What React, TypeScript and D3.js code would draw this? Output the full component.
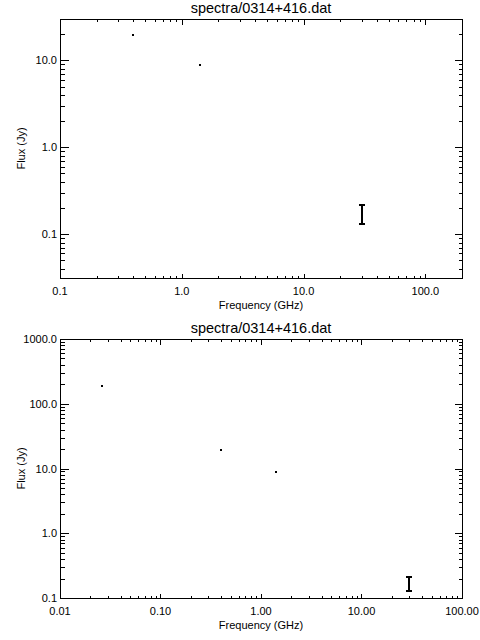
import React from "react";
import * as d3 from "d3";

// spectrum of 0314+416
const freqs = [0.026, 0.4, 1.4, 30];
const fluxes = [185, 19.4, 8.75, 0.175];
const errors = [0, 0, 0, 0.045];

const title = "spectra/0314+416.dat";
const xLabel = "Frequency (GHz)";
const yLabel = "Flux (Jy)";

// per-panel axis ranges and tick label decimals
const topXRange = [0.1, 200];
const topYRange = [0.0313, 30];
const botXRange = [0.01, 100];
const botYRange = [0.1, 1000];
const topXDecimals = [1, 1, 1, 1];
const topYDecimals = [1, 1, 1];
const botXDecimals = [2, 2, 2, 2, 2];
const botYDecimals = [1, 1, 1, 1, 1];

const font = "'Liberation Sans', Arial, sans-serif";
const left = 60;
const right = 462;
const panelH = 259;

type PanelProps = {
  top: number;
  xRange: number[];
  yRange: number[];
  xDec: number[];
  yDec: number[];
};

const isMajor = (v: number) => Math.abs(Math.log10(v) - Math.round(Math.log10(v))) < 1e-6;

const Panel = ({ top, xRange, yRange, xDec, yDec }: PanelProps) => {
  const bottom = top + panelH;
  const x = d3.scaleLog().domain(xRange).range([left, right]);
  const y = d3.scaleLog().domain(yRange).range([bottom, top]);
  const xTicks = x.ticks().filter((t) => t >= xRange[0] * 0.999 && t <= xRange[1] * 1.001);
  const yTicks = y.ticks().filter((t) => t >= yRange[0] * 0.999 && t <= yRange[1] * 1.001);
  const xMajors = xTicks.filter(isMajor);
  const yMajors = yTicks.filter(isMajor);
  const inX = (v: number) => v >= xRange[0] && v <= xRange[1];
  const inY = (v: number) => v >= yRange[0] && v <= yRange[1];
  const xLen = 5;
  const yLen = 8;

  return (
    <g>
      <text x={(left + right) / 2} y={top - 6} textAnchor="middle" fontSize={14.5}>
        {title}
      </text>
      <rect
        x={left + 0.5}
        y={top + 0.5}
        width={right - left}
        height={panelH}
        fill="none"
        stroke="#000"
        strokeWidth={1}
      />
      <g stroke="#000" strokeWidth={1}>
        {xTicks.map((t, i) => {
          const px = Math.round(x(t)) + 0.5;
          const len = isMajor(t) ? xLen : xLen / 2;
          return (
            <g key={"x" + i}>
              <line x1={px} x2={px} y1={bottom + 0.5} y2={bottom + 0.5 - len} />
              <line x1={px} x2={px} y1={top + 0.5} y2={top + 0.5 + len} />
            </g>
          );
        })}
        {yTicks.map((t, i) => {
          const py = Math.round(y(t)) + 0.5;
          const len = isMajor(t) ? yLen : yLen / 2;
          return (
            <g key={"y" + i}>
              <line x1={left + 0.5} x2={left + 0.5 + len} y1={py} y2={py} />
              <line x1={right + 0.5} x2={right + 0.5 - len} y1={py} y2={py} />
            </g>
          );
        })}
      </g>
      <g fontSize={11}>
        {xMajors.map((t, i) => (
          <text key={"xl" + i} x={x(t)} y={bottom + 16.5} textAnchor="middle">
            {t.toFixed(xDec[i])}
          </text>
        ))}
        {yMajors.map((t, i) => (
          <text key={"yl" + i} x={left - 3} y={y(t) + 4} textAnchor="end">
            {t.toFixed(yDec[i])}
          </text>
        ))}
        <text x={(left + right) / 2} y={bottom + 31} textAnchor="middle">
          {xLabel}
        </text>
        <text
          transform={`translate(25,${(top + bottom) / 2}) rotate(-90)`}
          textAnchor="middle"
        >
          {yLabel}
        </text>
      </g>
      <g fill="#000">
        {freqs.map((f, i) => {
          if (!inX(f) || !inY(fluxes[i])) return null;
          const px = Math.round(x(f));
          const py = Math.round(y(fluxes[i]));
          if (errors[i] > 0) {
            const y1 = Math.round(y(fluxes[i] + errors[i]));
            const y2 = Math.round(y(fluxes[i] - errors[i]));
            return (
              <g key={"p" + i}>
                <rect x={px - 1} y={y1} width={2} height={y2 - y1} />
                <rect x={px - 3} y={y1} width={6} height={2} />
                <rect x={px - 3} y={y2 - 1} width={6} height={2} />
              </g>
            );
          }
          return <rect key={"p" + i} x={px - 1} y={py - 1} width={2} height={2} />;
        })}
      </g>
    </g>
  );
};

export default function App() {
  return (
    <svg
      width={480}
      height={640}
      style={{ position: "absolute", left: 0, top: 0, background: "#fff", fontFamily: font }}
      shapeRendering="crispEdges"
    >
      <rect width={480} height={640} fill="#fff" />
      <Panel top={19} xRange={topXRange} yRange={topYRange} xDec={topXDecimals} yDec={topYDecimals} />
      <Panel top={339} xRange={botXRange} yRange={botYRange} xDec={botXDecimals} yDec={botYDecimals} />
    </svg>
  );
}
